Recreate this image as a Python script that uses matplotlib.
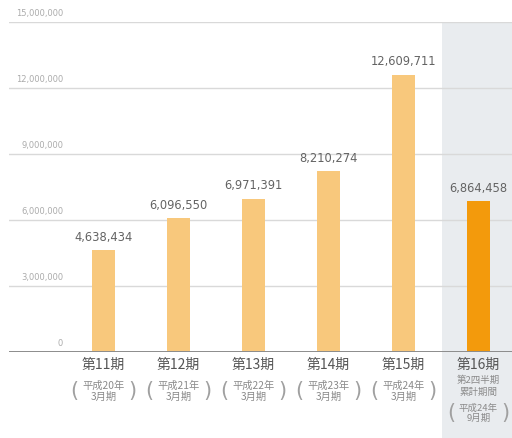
import matplotlib
matplotlib.use("Agg")
import matplotlib.pyplot as plt
from matplotlib.patches import Rectangle

plt.rcParams['font.family'] = ['Noto Sans CJK JP', 'DejaVu Sans']

periods = ["第11期", "第12期", "第13期", "第14期", "第15期", "第16期"]
sub_labels = ["平成20年\n3月期", "平成21年\n3月期", "平成22年\n3月期",
              "平成23年\n3月期", "平成24年\n3月期", "平成24年\n9月期"]
extra_label = "第2四半期\n累計期間"
values = [4638434, 6096550, 6971391, 8210274, 12609711, 6864458]
yticks = [0, 3000000, 6000000, 9000000, 12000000, 15000000]

W, H = 512, 438
fig = plt.figure(figsize=(W / 100, H / 100), dpi=100)
ax_left, ax_right, ax_bottom, ax_top = 9, 512, 352, 22
ax = fig.add_axes([ax_left / W, (H - ax_bottom) / H,
                   (ax_right - ax_left) / W, (ax_bottom - ax_top) / H])

step = 75.0
x0 = 103.5
ax.set_xlim((ax_left - x0) / step, (ax_right - x0) / step)
ax.set_ylim(0, 15000000)
ax.axis('off')

ax_h = ax_bottom - ax_top


def ay(ypix):
    return (ax_bottom - ypix) / ax_h


xt = ax.get_xaxis_transform()
yt = ax.get_yaxis_transform()

# shaded panel for the current (partial) period
panel_x = (442 - x0) / step
ax.add_patch(Rectangle((panel_x, ay(438)), 10, ay(22) - ay(438), transform=xt,
                       facecolor="#e9ecef", edgecolor="none", zorder=0, clip_on=False))

# grid lines and tick labels
for v in yticks[1:]:
    ax.axhline(v, color="#d9d9d9", lw=1.0, zorder=1)
for v in yticks:
    ax.text((63 - ax_left) / (ax_right - ax_left), v + 180000, f"{v:,}", transform=yt,
            ha="right", va="bottom", fontsize=6.0, color="#ababab", family="DejaVu Sans")
ax.axhline(0, color="#8c8c8c", lw=1.4, zorder=3)

colors = ["#f8c87c"] * 5 + ["#f39a0c"]
xs = list(range(len(values)))
ax.bar(xs, values, width=0.31, color=colors, zorder=2)

for x, v in zip(xs, values):
    ax.text(x, v + 280000, f"{v:,}", ha="center", va="bottom", fontsize=8.3,
            color="#636363", family="DejaVu Sans", zorder=4)

# category labels
for i, (p, s) in enumerate(zip(periods, sub_labels)):
    ax.text(i, ay(365), p, transform=xt, ha="center", va="center", fontsize=10,
            color="#555555", clip_on=False)
    if i < len(periods) - 1:
        yc, dx, fs = 391, 0.39, 7.4
    else:
        ax.text(i, ay(386), extra_label, transform=xt, ha="center", va="center",
                fontsize=6.8, color="#8a8a8a", linespacing=1.35, clip_on=False)
        yc, dx, fs = 413, 0.36, 6.8
    ax.text(i, ay(yc), s, transform=xt, ha="center", va="center",
            fontsize=fs, color="#8a8a8a", linespacing=1.1, clip_on=False)
    ax.text(i - dx, ay(yc), "(", transform=xt, ha="center", va="center",
            fontsize=15, color="#a0a0a0", clip_on=False, family="DejaVu Sans")
    ax.text(i + dx, ay(yc), ")", transform=xt, ha="center", va="center",
            fontsize=15, color="#a0a0a0", clip_on=False, family="DejaVu Sans")

fig.savefig("out.png", dpi=100, facecolor="white")
